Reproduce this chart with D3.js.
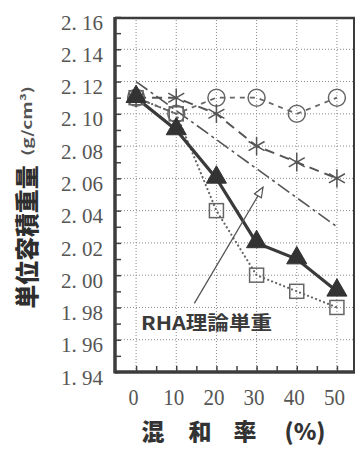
<!DOCTYPE html>
<html>
<head>
<meta charset="utf-8">
<script src="https://cdn.jsdelivr.net/npm/d3@7"></script>
<style>
  html, body { margin: 0; padding: 0; background: #fff; }
  svg { display: block; }
</style>
</head>
<body>
<svg id="chart" width="357" height="449"></svg>
<script>
// Mixing ratio (%) and unit weight (g/cm³) per mix
const ratios = [0, 10, 20, 30, 40, 50];
const circleSeries = [2.11, 2.10, 2.11, 2.11, 2.10, 2.11];
const starSeries = [2.11, 2.11, 2.10, 2.08, 2.07, 2.06];
const triangleSeries = [2.11, 2.09, 2.06, 2.02, 2.01, 1.99];
const squareSeries = [2.11, 2.10, 2.04, 2.00, 1.99, 1.98];
// theoretical unit weight of RHA mixes (straight line)
const theoryRatios = [0, 50];
const theorySeries = [2.12, 2.03];

const yTicks = [1.94, 1.96, 1.98, 2.00, 2.02, 2.04, 2.06, 2.08, 2.10, 2.12, 2.14, 2.16];
const yMinorTicks = [1.95, 1.97, 1.99, 2.01, 2.03, 2.05, 2.07, 2.09, 2.11, 2.13, 2.15];
const xTicks = [0, 10, 20, 30, 40, 50];
const xMinorTicks = [5, 15, 25, 35, 45];
const yTitle = "単位容積重量";
const yUnit = "(g/cm³)";
const xTitleParts = ["混", "和", "率", "(%)"];
const annotation = "RHA理論単重";

const svg = d3.select("#chart");
const pLeft = 115, pRight = 355, pTop = 17, pBottom = 372;

const x = d3.scaleLinear().domain([-5.25, 54.5]).range([pLeft, pRight]);
const y = d3.scaleLinear().domain([1.94, 2.16]).range([pBottom, pTop]);

// grid
const grid = svg.append("g").attr("stroke", "#8a8a8a").attr("stroke-width", 1)
  .attr("stroke-dasharray", "1,2");
grid.selectAll("line.h").data(yTicks.filter(v => v > 1.94 && v < 2.16)).join("line")
  .attr("class", "h")
  .attr("x1", pLeft).attr("x2", pRight).attr("y1", d => y(d)).attr("y2", d => y(d));
grid.selectAll("line.v").data(xTicks).join("line")
  .attr("class", "v")
  .attr("y1", pTop).attr("y2", pBottom).attr("x1", d => x(d)).attr("x2", d => x(d));

// inward ticks
const yTickAxis = d3.axisLeft(y).tickValues(yMinorTicks.concat(yTicks)).tickSize(-6).tickFormat("");
svg.append("g").attr("transform", `translate(${pLeft},0)`).call(yTickAxis)
  .call(g => g.select(".domain").remove())
  .call(g => g.selectAll("line").attr("stroke", "#444").attr("stroke-width", 1.5));
const xTickAxis = d3.axisBottom(x).tickValues(xMinorTicks.concat(xTicks)).tickSize(-6).tickFormat("");
svg.append("g").attr("transform", `translate(0,${pBottom})`).call(xTickAxis)
  .call(g => g.select(".domain").remove())
  .call(g => g.selectAll("line").attr("stroke", "#444").attr("stroke-width", 1.5));

// tick labels
const yLabelAxis = d3.axisLeft(y).tickValues(yTicks).tickSize(0).tickPadding(12)
  .tickFormat(d => d3.format(".2f")(d).replace(".", ". "));
svg.append("g").attr("transform", `translate(${pLeft},0)`).call(yLabelAxis)
  .call(g => g.select(".domain").remove())
  .call(g => g.selectAll("text")
    .attr("font-family", "Liberation Serif, serif")
    .attr("font-size", 22).attr("fill", "#555").attr("dy", "0.55em")
    .attr("textLength", 42).attr("lengthAdjust", "spacingAndGlyphs"));

const xLabelAxis = d3.axisBottom(x).tickValues(xTicks).tickSize(0).tickPadding(16)
  .tickFormat(d => String(d));
svg.append("g").attr("transform", `translate(0,${pBottom})`).call(xLabelAxis)
  .call(g => g.select(".domain").remove())
  .call(g => g.selectAll("text")
    .attr("font-family", "Liberation Serif, serif")
    .attr("font-size", 24).attr("fill", "#555").attr("dx", -3)
    .attr("textLength", d => d === 0 ? 10 : 21).attr("lengthAdjust", "spacingAndGlyphs"));

// frame
const frame = svg.append("g").attr("stroke", "#3c3c3c").attr("fill", "none");
frame.append("line").attr("x1", pLeft).attr("x2", pRight).attr("y1", pTop + 1).attr("y2", pTop + 1).attr("stroke-width", 2.5);
frame.append("line").attr("x1", pRight - 1).attr("x2", pRight - 1).attr("y1", pTop).attr("y2", pBottom).attr("stroke-width", 2);
frame.append("line").attr("x1", pLeft).attr("x2", pLeft).attr("y1", pTop).attr("y2", pBottom + 1.5).attr("stroke-width", 3.5);
frame.append("line").attr("x1", pLeft).attr("x2", pRight).attr("y1", pBottom).attr("y2", pBottom).attr("stroke-width", 3.5);

const line = d3.line().x(d => x(d[0])).y(d => y(d[1]));
const pairs = vals => ratios.map((r, i) => [r, vals[i]]);

// theory line (dash-dot)
svg.append("path").datum(theoryRatios.map((r, i) => [r, theorySeries[i]]))
  .attr("d", line).attr("fill", "none").attr("stroke", "#555").attr("stroke-width", 1.6)
  .attr("stroke-dasharray", "14,4,3,4");

// circle series line (short dashes)
svg.append("path").datum(pairs(circleSeries))
  .attr("d", line).attr("fill", "none").attr("stroke", "#666").attr("stroke-width", 1.8)
  .attr("stroke-dasharray", "5,5");

// asterisk series line (long dashes)
svg.append("path").datum(pairs(starSeries))
  .attr("d", line).attr("fill", "none").attr("stroke", "#555").attr("stroke-width", 2)
  .attr("stroke-dasharray", "10,6");

// square series line (dotted)
svg.append("path").datum(pairs(squareSeries))
  .attr("d", line).attr("fill", "none").attr("stroke", "#666").attr("stroke-width", 2.2)
  .attr("stroke-linecap", "round").attr("stroke-dasharray", "0.1,4.2");

// triangle series line (solid, heavy)
svg.append("path").datum(pairs(triangleSeries))
  .attr("d", line).attr("fill", "none").attr("stroke", "#3a3a3a").attr("stroke-width", 3.2);

// markers
svg.append("g").selectAll("circle").data(pairs(circleSeries)).join("circle")
  .attr("cx", d => x(d[0])).attr("cy", d => y(d[1])).attr("r", 8.5)
  .attr("fill", "none").attr("stroke", "#666").attr("stroke-width", 1.5);

svg.append("g").selectAll("rect").data(pairs(squareSeries)).join("rect")
  .attr("x", d => x(d[0]) - 7).attr("y", d => y(d[1]) - 7).attr("width", 14).attr("height", 14)
  .attr("fill", "none").attr("stroke", "#666").attr("stroke-width", 1.5);

svg.append("g").selectAll("path").data(pairs(starSeries)).join("path")
  .attr("transform", d => `translate(${x(d[0])},${y(d[1])})`)
  .attr("d", d3.symbol(d3.symbolAsterisk, 240))
  .attr("fill", "none").attr("stroke", "#555").attr("stroke-width", 1.5);

svg.append("g").selectAll("path").data(pairs(triangleSeries)).join("path")
  .attr("transform", d => `translate(${x(d[0])},${y(d[1]) - 1})`)
  .attr("d", d3.symbol(d3.symbolTriangle, 175))
  .attr("fill", "#333").attr("stroke", "#333").attr("stroke-width", 1);

// annotation with arrow
svg.append("defs").append("marker")
  .attr("id", "openArrow").attr("viewBox", "0 0 12 12").attr("refX", 11).attr("refY", 6)
  .attr("markerWidth", 12).attr("markerHeight", 12).attr("markerUnits", "userSpaceOnUse")
  .attr("orient", "auto")
  .append("path").attr("d", "M1,2 L11,6 L1,10 Z").attr("fill", "#fff")
  .attr("stroke", "#555").attr("stroke-width", 1.2);
svg.append("line").attr("x1", x(14.5)).attr("y1", y(1.9825)).attr("x2", x(31.6)).attr("y2", y(2.0545))
  .attr("stroke", "#555").attr("stroke-width", 1.3).attr("marker-end", "url(#openArrow)");
svg.append("text").attr("x", 141).attr("y", 330)
  .attr("font-family", "Noto Sans CJK JP, sans-serif").attr("font-weight", "bold")
  .attr("font-size", 19).attr("fill", "#3a3a3a")
  .attr("textLength", 131).attr("lengthAdjust", "spacingAndGlyphs")
  .text(annotation);

// axis titles
const yT = svg.append("g").attr("transform", "translate(27,0) rotate(-90)");
yT.append("text").attr("x", -237).attr("y", 0).attr("dy", "0.36em")
  .attr("text-anchor", "middle")
  .attr("font-family", "Noto Sans CJK JP, sans-serif").attr("font-weight", 900)
  .attr("font-size", 24).attr("fill", "#2e2e2e")
  .attr("textLength", 143).attr("lengthAdjust", "spacingAndGlyphs")
  .text(yTitle);
yT.append("text").attr("x", -121).attr("y", 0).attr("dy", "0.36em")
  .attr("text-anchor", "middle")
  .attr("font-family", "Noto Sans CJK JP, sans-serif").attr("font-weight", "bold")
  .attr("font-size", 13).attr("fill", "#555")
  .attr("textLength", 70).attr("lengthAdjust", "spacingAndGlyphs")
  .text(yUnit);

const xTitlePos = [153, 200, 245, 305];
svg.append("g").selectAll("text").data(xTitleParts).join("text")
  .attr("x", (d, i) => xTitlePos[i]).attr("y", 440)
  .attr("text-anchor", "middle")
  .attr("font-family", "Noto Sans CJK JP, sans-serif").attr("font-weight", 900)
  .attr("font-size", 23).attr("fill", "#333")
  .text(d => d);
</script>
</body>
</html>
